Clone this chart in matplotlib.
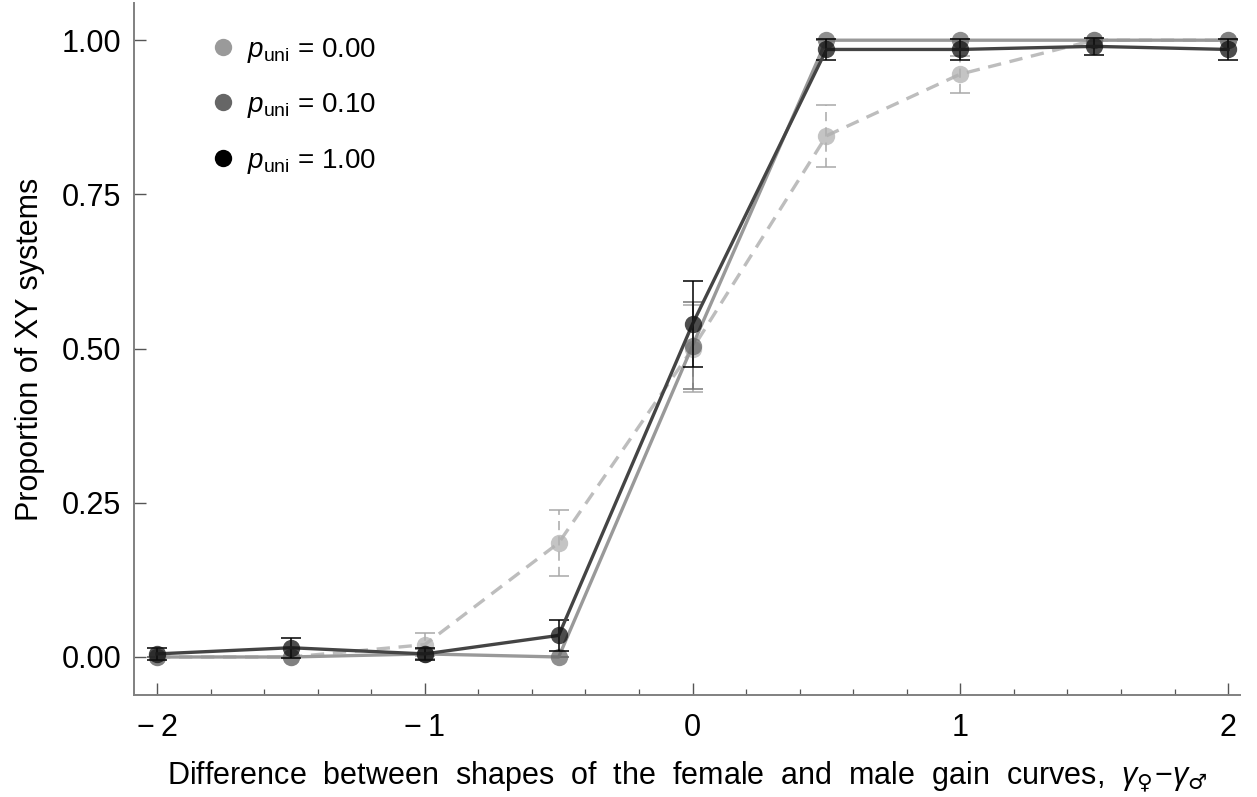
import matplotlib
matplotlib.use("Agg")
import matplotlib.pyplot as plt
from matplotlib.ticker import MultipleLocator

plt.rcParams["font.family"] = ["Liberation Sans", "DejaVu Sans"]
plt.rcParams["mathtext.fontset"] = "custom"
plt.rcParams["mathtext.rm"] = "Liberation Sans"
plt.rcParams["mathtext.it"] = "Liberation Sans:italic"
plt.rcParams["mathtext.sf"] = "DejaVu Sans"
plt.rcParams["mathtext.fallback"] = "stixsans"

# difference in gain-curve shapes
gamma_diff = [-2, -1.5, -1, -0.5, 0, 0.5, 1, 1.5, 2]

# proportion of XY systems and error half-widths, one list per p_uni
xy_p000 = [0.0, 0.0, 0.02, 0.185, 0.50, 0.845, 0.945, 1.0, 1.0]
err_p000 = [0.0, 0.0, 0.019, 0.053, 0.07, 0.05, 0.03, 0.0, 0.0]
xy_p010 = [0.0, 0.0, 0.005, 0.0, 0.505, 1.0, 1.0, 1.0, 1.0]
err_p010 = [0.0, 0.0, 0.008, 0.0, 0.07, 0.0, 0.0, 0.0, 0.0]
xy_p100 = [0.005, 0.015, 0.005, 0.035, 0.54, 0.985, 0.985, 0.99, 0.985]
err_p100 = [0.01, 0.016, 0.01, 0.025, 0.07, 0.017, 0.017, 0.014, 0.017]

legend_labels = [r"$p_{\mathrm{uni}}$ = 0.00", r"$p_{\mathrm{uni}}$ = 0.10",
                 r"$p_{\mathrm{uni}}$ = 1.00"]
xtick_vals = [-2, -1, 0, 1, 2]
xtick_labels = ["\u2212\u20092", "\u2212\u20091", "0", "1", "2"]
ytick_vals = [0.0, 0.25, 0.5, 0.75, 1.0]
ytick_labels = ["0.00", "0.25", "0.50", "0.75", "1.00"]
xlabel_words = ["Difference", "between", "shapes", "of", "the", "female",
                "and", "male", "gain", "curves,"]

fig = plt.figure(figsize=(12.57, 7.97), dpi=100)
ax = fig.add_axes([0.1066, 0.128, 0.88, 0.868])

fs = 22
ms = 12.5

# p_uni = 0.00 : dashed light grey
eb = ax.errorbar(gamma_diff, xy_p000, yerr=err_p000, color="#bdbdbd", lw=2.4,
                 ls=(0, (4, 2.6)), ecolor="#a8a8a8", elinewidth=1.1, capsize=7,
                 capthick=1.1, zorder=2)
eb[2][0].set_linestyle((0, (6, 4)))
ax.plot(gamma_diff, xy_p000, "o", color="#b0b0b0", ms=ms, alpha=0.75,
        mec="none", zorder=3)

# p_uni = 0.10 : solid mid grey
ax.errorbar(gamma_diff, xy_p010, yerr=err_p010, color="#999999", lw=2.4,
            ecolor="#777777", elinewidth=1.1, capsize=7, capthick=1.1, zorder=4)
ax.plot(gamma_diff, xy_p010, "o", color="#6a6a6a", ms=ms, alpha=0.75,
        mec="none", zorder=5)

# p_uni = 1.00 : solid dark
ax.errorbar(gamma_diff, xy_p100, yerr=err_p100, color="#444444", lw=2.4,
            ecolor="black", elinewidth=1.1, capsize=7, capthick=1.1, zorder=6)
ax.plot(gamma_diff, xy_p100, "o", color="#111111", ms=ms, alpha=0.75,
        mec="none", zorder=7)

# legend
handles = [
    plt.Line2D([], [], ls="none", marker="o", color="#9a9a9a", ms=ms, mec="none"),
    plt.Line2D([], [], ls="none", marker="o", color="#666666", ms=ms, mec="none"),
    plt.Line2D([], [], ls="none", marker="o", color="black", ms=ms, mec="none"),
]
ax.legend(handles, legend_labels, loc="upper left", bbox_to_anchor=(0.053, 0.981),
          frameon=False, fontsize=20, handlelength=0.8, handletextpad=0.45,
          labelspacing=0.95, borderaxespad=0.3)

ax.set_xlim(-2.086, 2.045)
ax.set_ylim(-0.0616, 1.06)

ax.set_xticks(xtick_vals, xtick_labels)
ax.set_yticks(ytick_vals, ytick_labels)
ax.xaxis.set_minor_locator(MultipleLocator(0.2))

for side in ["top", "right"]:
    ax.spines[side].set_visible(False)
for side in ["left", "bottom"]:
    ax.spines[side].set_color("#808080")
    ax.spines[side].set_linewidth(1.4)

ax.tick_params(which="major", direction="in", length=8.5, width=1.0,
               color="#555555", labelsize=fs)
ax.tick_params(axis="x", which="major", pad=13)
ax.tick_params(axis="y", which="major", pad=9)
ax.tick_params(which="minor", direction="in", length=4.3, width=0.9,
               color="#555555")
ax.tick_params(axis="y", which="minor", left=False)

ax.set_xlabel("  ".join(xlabel_words) + "  "
              + "$\\gamma_{\\mathsf{\u2640}}\\!-\\!\\gamma_{\\mathsf{\u2642}}$",
              fontsize=fs, labelpad=12)
ax.set_ylabel("Proportion of XY systems", fontsize=fs, labelpad=12)

fig.savefig("out.png", dpi=100)
